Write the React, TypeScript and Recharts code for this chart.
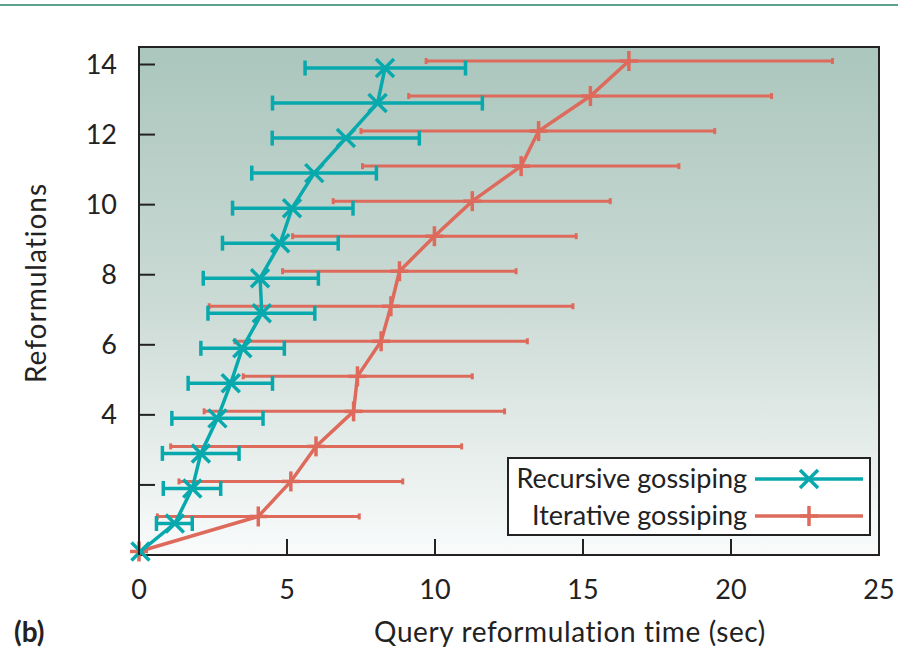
import { ScatterChart, Scatter, XAxis, YAxis, CartesianGrid, ErrorBar, ReferenceArea, Legend } from "recharts";

const FONT = "Lato, 'Open Sans', sans-serif";
const TEAL = "#08a9ad";
const SALMON = "#de6a5c";
const INK = "#222";

const X_TICKS = [0, 5, 10, 15, 20, 25];
const Y_TICKS = [2, 4, 6, 8, 10, 12, 14];

// Recursive gossiping (rows 14 -> 0)
const recLevel = [13.9, 12.9, 11.9, 10.9, 9.9, 8.9, 7.9, 6.9, 5.9, 4.9, 3.9, 2.9, 1.9, 0.9, 0.1];
const recTime = [8.31, 8.06, 6.99, 5.92, 5.17, 4.77, 4.09, 4.15, 3.49, 3.1, 2.65, 2.09, 1.8, 1.21, 0.05];
const recLow = [5.61, 4.51, 4.5, 3.81, 3.16, 2.82, 2.17, 2.33, 2.09, 1.66, 1.11, 0.79, 0.82, 0.59, null];
const recHigh = [11.03, 11.6, 9.47, 8.02, 7.23, 6.73, 6.06, 5.94, 4.91, 4.51, 4.19, 3.38, 2.76, 1.8, null];

// Iterative gossiping
const iterLevel = [14.1, 13.1, 12.1, 11.1, 10.1, 9.1, 8.1, 7.1, 6.1, 5.1, 4.1, 3.1, 2.1, 1.1, 0.1];
const iterTime = [16.55, 15.25, 13.5, 12.91, 11.26, 9.98, 8.8, 8.51, 8.18, 7.38, 7.25, 5.98, 5.13, 4.03, 0];
const iterLow = [9.7, 9.11, 7.5, 7.55, 6.56, 5.19, 4.85, 2.37, 3.24, 3.52, 2.2, 1.07, 1.35, 0.62, null];
const iterHigh = [23.43, 21.37, 19.45, 18.24, 15.92, 14.77, 12.74, 14.66, 13.12, 11.26, 12.35, 10.9, 8.91, 7.44, null];

const REC_NAME = "Recursive gossiping";
const ITER_NAME = "Iterative gossiping";
const LEGEND_ORDER = [REC_NAME, ITER_NAME];

function buildRows(level: number[], time: number[], low: (number | null)[], high: (number | null)[]) {
  return time.map((t, i) => ({
    time: t,
    level: level[i],
    err: low[i] == null || high[i] == null ? null : [t - (low[i] as number), (high[i] as number) - t],
  }));
}

const recData = buildRows(recLevel, recTime, recLow, recHigh);
const iterData = buildRows(iterLevel, iterTime, iterLow, iterHigh);

function Cross({ cx, cy, color }: { cx: number; cy: number; color: string }) {
  const s = 9;
  return (
    <g stroke={color} strokeWidth={3.5}>
      <line x1={cx - s} y1={cy - s} x2={cx + s} y2={cy + s} />
      <line x1={cx - s} y1={cy + s} x2={cx + s} y2={cy - s} />
    </g>
  );
}

function Plus({ cx, cy, color }: { cx: number; cy: number; color: string }) {
  return (
    <g stroke={color} strokeWidth={3.5}>
      <line x1={cx} y1={cy - 10} x2={cx} y2={cy + 10} />
      <line x1={cx - 9} y1={cy} x2={cx + 9} y2={cy} />
    </g>
  );
}

const MARKERS: Record<string, (p: { cx: number; cy: number; color: string }) => any> = {
  [REC_NAME]: Cross,
  [ITER_NAME]: Plus,
};

function YTick({ x, y, payload }: any) {
  return (
    <g>
      <line x1={x} x2={x + 16} y1={y} y2={y} stroke={INK} strokeWidth={2} />
      {payload.value !== 2 && (
        <text x={x - 22} y={y + 9} textAnchor="end" fontSize={27} fontFamily={FONT} fill={INK}>
          {payload.value}
        </text>
      )}
    </g>
  );
}

function XTick({ x, y, payload }: any) {
  return (
    <g>
      <line x1={x} x2={x} y1={y} y2={y - 16} stroke={INK} strokeWidth={2} />
      <text x={x} y={y + 44} textAnchor="middle" fontSize={27} fontFamily={FONT} fill={INK}>
        {payload.value}
      </text>
    </g>
  );
}

function LegendBox({ payload }: any) {
  const items = LEGEND_ORDER.map((n) => (payload || []).find((p: any) => p.value === n)).filter(Boolean);
  return (
    <div style={{ width: 360, height: 75, border: `2px solid ${INK}`, background: "#fff" }}>
      <svg width={360} height={75} style={{ display: "block" }}>
        {items.map((it: any, i: number) => {
          const cy = 20 + i * 37;
          const Mark = MARKERS[it.value];
          return (
            <g key={it.value}>
              <text x={238} y={cy + 9} textAnchor="end" fontSize={27} fontFamily={FONT} fill={INK}>
                {it.value}
              </text>
              <line x1={246} x2={354} y1={cy} y2={cy} stroke={it.color} strokeWidth={3.5} />
              <Mark cx={300} cy={cy} color={it.color} />
            </g>
          );
        })}
      </svg>
    </div>
  );
}

export default function App() {
  return (
    <div style={{ position: "absolute", left: 0, top: 0, width: 898, height: 647, background: "#fff" }}>
      <div style={{ position: "absolute", left: 0, top: 4, width: 898, height: 2, background: "#5aa48f" }} />
      <ScatterChart width={898} height={647} margin={{ top: 47, right: 19, left: 0, bottom: 0 }}>
        <defs>
          <linearGradient id="plotBg" x1="0" y1="0" x2="0" y2="1">
            <stop offset="0%" stopColor="#aac6bd" />
            <stop offset="50%" stopColor="#cbdad5" />
            <stop offset="100%" stopColor="#f9fbfb" />
          </linearGradient>
        </defs>
        <CartesianGrid horizontal={false} vertical={false} fill="url(#plotBg)" />
        <XAxis
          type="number"
          dataKey="time"
          domain={[0, 25]}
          ticks={X_TICKS}
          height={92}
          axisLine={false}
          tickLine={false}
          tickSize={0}
          tickMargin={0}
          tick={<XTick />}
          interval={0}
        />
        <YAxis
          type="number"
          dataKey="level"
          domain={[0, 14.5]}
          ticks={Y_TICKS}
          width={139}
          axisLine={false}
          tickLine={false}
          tickSize={0}
          tickMargin={0}
          tick={<YTick />}
          interval={0}
        />
        <ReferenceArea x1={0} x2={25} y1={0} y2={14.5} fill="none" stroke={INK} strokeWidth={2} />
        <Scatter
          name={ITER_NAME}
          data={iterData}
          fill={SALMON}
          line={{ stroke: SALMON, strokeWidth: 3.5 }}
          shape={(p: any) => <Plus cx={p.cx} cy={p.cy} color={SALMON} />}
          isAnimationActive={false}
        >
          <ErrorBar dataKey="err" direction="x" width={3} stroke={SALMON} strokeWidth={3} />
        </Scatter>
        <Scatter
          name={REC_NAME}
          data={recData}
          fill={TEAL}
          line={{ stroke: TEAL, strokeWidth: 3.5 }}
          shape={(p: any) => <Cross cx={p.cx} cy={p.cy} color={TEAL} />}
          isAnimationActive={false}
        >
          <ErrorBar dataKey="err" direction="x" width={7.5} stroke={TEAL} strokeWidth={3.5} />
        </Scatter>
        <Legend
          layout="vertical"
          align="center"
          verticalAlign="middle"
          content={<LegendBox />}
          wrapperStyle={{ left: 507, top: 457, width: 364, height: 79 }}
        />
      </ScatterChart>
      <svg width={898} height={647} style={{ position: "absolute", left: 0, top: 0, pointerEvents: "none" }}>
        <text
          x={35}
          y={283}
          transform="rotate(-90 35 283)"
          textAnchor="middle"
          dominantBaseline="central"
          fontSize={28}
          letterSpacing={1}
          fontFamily={FONT}
          fill={INK}
        >
          Reformulations
        </text>
        <text x={14} y={642} fontSize={28} fontWeight="bold" fontFamily={FONT} fill={INK}>
          (b)
        </text>
        <text x={570} y={642} textAnchor="middle" fontSize={28} letterSpacing={0.6} fontFamily={FONT} fill={INK}>
          Query reformulation time (sec)
        </text>
      </svg>
    </div>
  );
}
